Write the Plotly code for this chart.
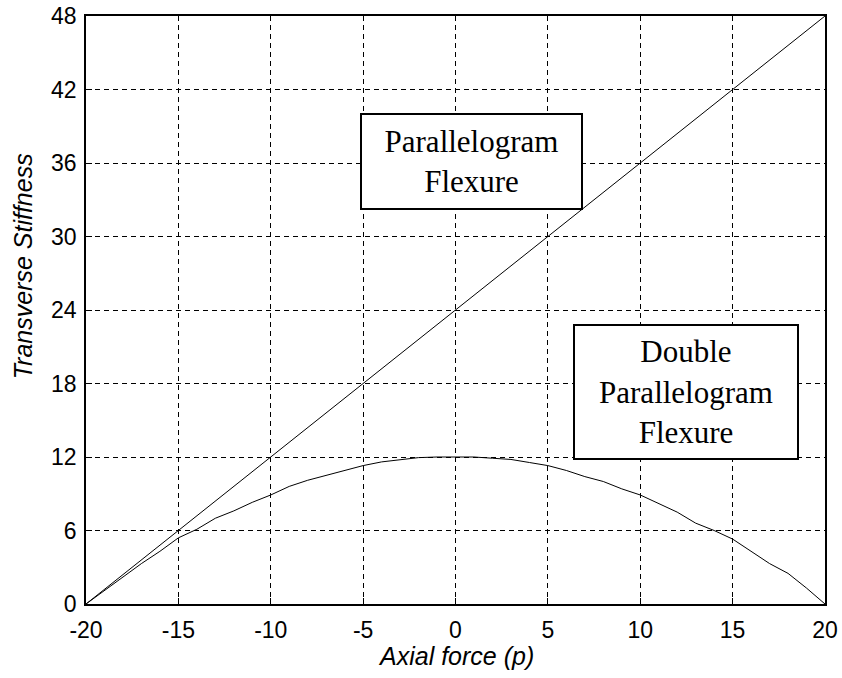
import plotly.graph_objects as go

# axial force p and stiffness values
p_line = [-20, 20]
k_parallelogram = [0, 48]

p_curve = [-20, -19, -18, -17, -16, -15, -14, -13, -12, -11, -10, -9, -8, -7, -6, -5, -4, -3, -2, -1,
           0, 1, 2, 3, 4, 5, 6, 7, 8, 9, 10, 11, 12, 13, 14, 15, 16, 17, 18, 19, 20]
k_double = [0, 1.1, 2.2, 3.3, 4.3, 5.4, 6.1, 7.0, 7.6, 8.3, 8.9, 9.6, 10.1, 10.5, 10.9, 11.3, 11.6, 11.75, 11.95, 12.0,
            12.0, 12.0, 11.9, 11.8, 11.55, 11.3, 10.9, 10.4, 10.0, 9.4, 8.9, 8.2, 7.5, 6.6, 6.0, 5.3, 4.3, 3.3, 2.5, 1.3, 0]

x_ticks = [-20, -15, -10, -5, 0, 5, 10, 15, 20]
y_ticks = [0, 6, 12, 18, 24, 30, 36, 42, 48]

fig = go.Figure()
fig.add_trace(go.Scatter(x=p_line, y=k_parallelogram, mode='lines',
                         line=dict(color='black', width=1), showlegend=False))
fig.add_trace(go.Scatter(x=p_curve, y=k_double, mode='lines',
                         line=dict(color='black', width=1), showlegend=False))

axis_common = dict(showline=True, linecolor='black', linewidth=1.5, mirror=True,
                   showgrid=True, gridcolor='black', griddash='5px,4px', gridwidth=0.8,
                   zeroline=False, ticks='inside', ticklen=6, tickcolor='black',
                   automargin=False,
                   tickfont=dict(family='Liberation Sans, Arial', size=23, color='black'))

fig.update_xaxes(range=[-20, 20], tickvals=x_ticks, ticktext=[str(v) for v in x_ticks],
                 ticklabelstandoff=5, **axis_common)
fig.update_yaxes(range=[0, 48], tickvals=y_ticks, ticktext=[str(v) for v in y_ticks],
                 ticklabelstandoff=3, **axis_common)

# axis titles as annotations (y title sits above the axis centre in the original)
title_font = dict(family='Liberation Sans, Arial', size=25, color='black')
fig.add_annotation(x=0.5, y=-0.088, xref='paper', yref='paper', xanchor='center', yanchor='middle',
                   text='<i>Axial force (p)</i>', showarrow=False, font=title_font)
fig.add_annotation(x=-0.086, y=0.575, xref='paper', yref='paper', xanchor='center', yanchor='middle',
                   text='<i>Transverse Stiffness</i>', showarrow=False, font=title_font, textangle=-90)

box_font = dict(family='Liberation Serif, Times New Roman', size=31, color='black')
fig.add_annotation(x=-5.19, y=40.08, xref='x', yref='y', xanchor='left', yanchor='top',
                   text='Parallelogram<br>Flexure', showarrow=False, font=box_font,
                   align='center', width=219, height=93, bgcolor='white',
                   bordercolor='black', borderwidth=2, borderpad=0)
fig.add_annotation(x=6.35, y=22.86, xref='x', yref='y', xanchor='left', yanchor='top',
                   text='Double<br>Parallelogram<br>Flexure', showarrow=False, font=box_font,
                   align='center', width=222, height=132, bgcolor='white',
                   bordercolor='black', borderwidth=2, borderpad=0)

fig.update_layout(width=842, height=678, paper_bgcolor='white', plot_bgcolor='white',
                  margin=dict(l=86, r=17, t=16, b=74))

fig.write_html("out.html", config={'displayModeBar': False},
               post_script="document.body.style.margin='0';document.body.style.overflow='hidden';")
